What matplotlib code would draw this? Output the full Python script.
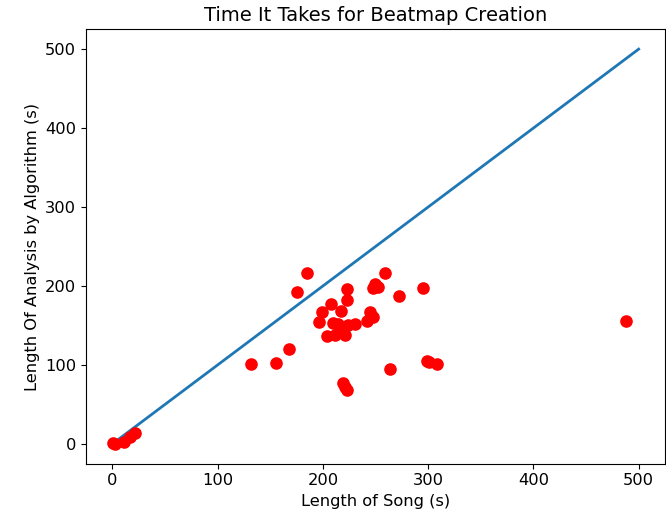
import matplotlib
matplotlib.use("Agg")
import matplotlib.pyplot as plt

song_length = [1, 3, 10.7, 17, 21.8,
               131.6, 155.6, 168, 175.2, 185.3, 196.4, 199, 203.7, 207.8, 210,
               211.6, 214.7, 216.3, 217, 218.9, 219.4, 221, 221, 222.7, 222.7, 222.7,
               224, 230.5, 241.6, 244.8, 248, 248, 250, 252.7, 259, 263.8, 272.6,
               294.8, 298.6, 301, 308, 488]
analysis_length = [1, 0, 3, 9, 13.5,
                   101, 102, 120, 192, 217, 155, 167.5, 136.7, 177, 153.5,
                   138, 152, 143, 168.7, 76.8, 146, 138, 72.5, 196, 182, 68,
                   150.6, 152, 156, 167.5, 161, 197, 203, 199, 217, 94.5, 188,
                   197, 105.4, 104, 101, 155.7]
ref_line = [0, 500]

fig = plt.figure(figsize=(6.66, 5.15), dpi=100)
ax = fig.add_axes([0.129, 0.0995, 0.8695, 0.8435])
ax.scatter(song_length, analysis_length, color='red', s=65, zorder=2)
ax.plot(ref_line, ref_line, color='#1f77b4', lw=2, zorder=1)
ax.set_xlim(-25, 525)
ax.set_ylim(-25, 525)
ax.set_xticks([0, 100, 200, 300, 400, 500])
ax.set_yticks([0, 100, 200, 300, 400, 500])
ax.tick_params(labelsize=11.7)
ax.set_title('Time It Takes for Beatmap Creation', fontsize=14)
ax.set_xlabel('Length of Song (s)', fontsize=11.7)
ax.set_ylabel('Length Of Analysis by Algorithm (s)', fontsize=11.7)
fig.savefig('out.png', dpi=100)
